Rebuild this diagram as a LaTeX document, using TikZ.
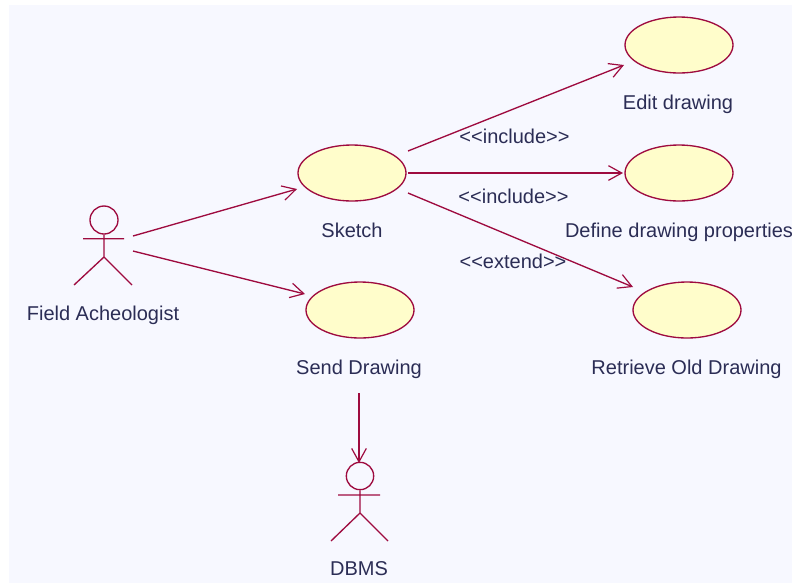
\documentclass[tikz,border=0pt]{standalone}
\usepackage{fontspec}
\setmainfont{Liberation Sans}
\usetikzlibrary{arrows.meta,shapes.geometric}
\definecolor{umlline}{HTML}{9E0B3F}
\definecolor{umlfill}{HTML}{FFFDCB}
\definecolor{umlbg}{HTML}{F7F8FF}
\definecolor{umltext}{HTML}{2B2D55}
\tikzset{
  usecase/.style={ellipse,draw=umlline,fill=umlfill,line width=1pt,minimum width=81pt,minimum height=42pt,inner sep=0pt},
  lbl/.style={text=umltext,font=\fontsize{15}{17}\selectfont,inner sep=0pt,anchor=base},
  assoc/.style={draw=umlline,line width=1pt,-{Straight Barb[length=10pt,width=11pt,line width=0.9pt]}},
  stick/.style={draw=umlline,line width=1pt}
}
\begin{document}
\begin{tikzpicture}[x=0.75pt,y=-0.75pt]
\useasboundingbox (0,0) rectangle (792,583);
\fill[umlbg] (9,5) rectangle (792,583);
% use cases
\node[usecase] (sketch) at (352,173) {};
\node[usecase] (send) at (360,310) {};
\node[usecase] (edit) at (679,45) {};
\node[usecase] (define) at (679,173) {};
\node[usecase] (retrieve) at (687,310) {};
% labels
\node[lbl] (lsketch) at (352,237.5) {Sketch};
\node[lbl] (lsend) at (359,374) {Send Drawing};
\node[lbl] (ledit) at (678,109) {Edit drawing};
\node[lbl] (ldefine) at (679,237.5) {Define drawing properties};
\node[lbl] (lretrieve) at (686.5,374) {Retrieve Old Drawing};
\node[lbl] (lfield) at (103,320.5) {Field Acheologist};
\node[lbl] (ldbms) at (359,575) {DBMS};
\node[lbl] (linc1) at (514.5,143.5) {<{}<include>{}>};
\node[lbl] (linc2) at (513.5,203) {<{}<include>{}>};
\node[lbl] (lext) at (513,268.5) {<{}<extend>{}>};
% actor: Field Acheologist
\node[circle,stick,minimum size=21pt,inner sep=0pt] (headA) at (104,220) {};
\coordinate (hipA) at (104,257);
\coordinate (armLA) at (83,238.7);
\coordinate (armRA) at (124,238.7);
\coordinate (footLA) at (74,285);
\coordinate (footRA) at (132,285);
\draw[stick] (headA.south) -- (hipA) (armLA) -- (armRA) (footLA) -- (hipA) -- (footRA);
% actor: DBMS
\node[circle,stick,minimum size=20.5pt,inner sep=0pt] (headB) at (360,476) {};
\coordinate (hipB) at (360,513);
\coordinate (armLB) at (338,495);
\coordinate (armRB) at (380,495);
\coordinate (footLB) at (331,541);
\coordinate (footRB) at (388,541);
\draw[stick] (headB.south) -- (hipB) (armLB) -- (armRB) (footLB) -- (hipB) -- (footRB);
% connector free ends
\coordinate (fromA1) at (133,236);
\coordinate (fromA2) at (133,251);
\coordinate (fromS1) at (408,151);
\coordinate (fromS2) at (408,173);
\coordinate (fromS3) at (408,193);
\coordinate (fromSend) at (359,393);
\coordinate (toSketch) at (297,189);
\coordinate (toSend) at (305,294);
\coordinate (toEdit) at (624,65);
\coordinate (toDefine) at (623,173);
\coordinate (toRetrieve) at (633,287);
\coordinate (toDbms) at (359,463);
% connectors
\draw[assoc] (fromA1) -- (toSketch);
\draw[assoc] (fromA2) -- (toSend);
\draw[assoc] (fromS1) -- (toEdit);
\draw[assoc] (fromS2) -- (toDefine);
\draw[assoc] (fromS3) -- (toRetrieve);
\draw[assoc] (fromSend) -- (toDbms);
\end{tikzpicture}
\end{document}
